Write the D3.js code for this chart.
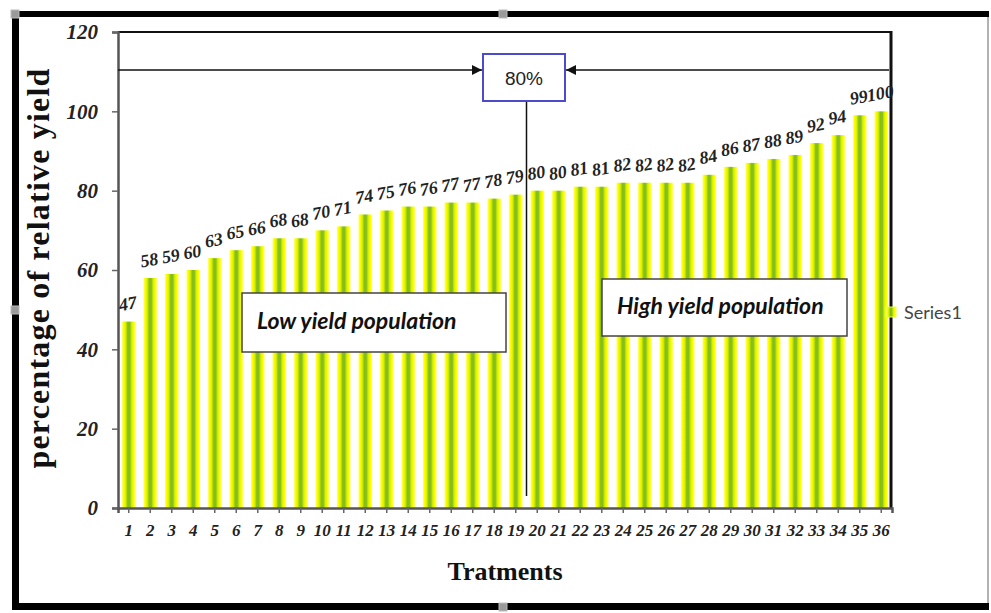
<!DOCTYPE html>
<html>
<head>
<meta charset="utf-8">
<script src="https://cdn.jsdelivr.net/npm/d3@7"></script>
<style>
  html, body { margin: 0; padding: 0; background: #fff; }
  svg { display: block; }
</style>
</head>
<body>
<svg id="chart" width="991" height="613"></svg>
<script>
// Treatments (x categories) and their relative yield (%)
const treatments = d3.range(1, 37).map(String);
const relativeYield = [47, 58, 59, 60, 63, 65, 66, 68, 68, 70, 71, 74, 75, 76, 76, 77, 77, 78,
                       79, 80, 80, 81, 81, 82, 82, 82, 82, 84, 86, 87, 88, 89, 92, 94, 99, 100];
const yTicks = [0, 20, 40, 60, 80, 100, 120];
const threshold = 80;
const seriesName = "Series1";

const svg = d3.select("#chart");
const plot = { left: 118, right: 892, top: 32, bottom: 508 };
const serif = "'Liberation Serif', 'Times New Roman', serif";
const sans = "Lato, 'Open Sans', sans-serif";

const x = d3.scaleBand().domain(treatments).range([plot.left, plot.right]).paddingInner(0.36).paddingOuter(0.18);
const y = d3.scaleLinear().domain([0, 120]).range([plot.bottom, plot.top]);

// Bar fill: yellow edges with a green core
const defs = svg.append("defs");
const grad = defs.append("linearGradient").attr("id", "barFill").attr("x1", "0%").attr("x2", "100%");
[["0%", "#ffff90"], ["12%", "#ffff00"], ["28%", "#d8f000"], ["42%", "#86bf1c"], ["58%", "#86bf1c"], ["72%", "#d8f000"], ["88%", "#ffff00"], ["100%", "#ffff90"]]
  .forEach(([o, c]) => grad.append("stop").attr("offset", o).attr("stop-color", c));

// Outer frame
svg.append("rect").attr("x", 0).attr("y", 0).attr("width", 991).attr("height", 613).attr("fill", "#fff");
svg.append("line").attr("x1", 988).attr("x2", 988).attr("y1", 12).attr("y2", 609).attr("stroke", "#999").attr("stroke-width", 1.5);
svg.append("rect").attr("x", 12).attr("y", 11).attr("width", 977).attr("height", 6).attr("fill", "#000");
svg.append("rect").attr("x", 12).attr("y", 603).attr("width", 977).attr("height", 7).attr("fill", "#000");
svg.append("rect").attr("x", 12).attr("y", 11).attr("width", 7).attr("height", 599).attr("fill", "#000");

// Plot frame (top and right)
svg.append("line").attr("x1", plot.left).attr("x2", plot.right).attr("y1", plot.top).attr("y2", plot.top)
  .attr("stroke", "#111").attr("stroke-width", 2);
svg.append("line").attr("x1", plot.right - 1).attr("x2", plot.right - 1).attr("y1", plot.top - 1).attr("y2", plot.bottom)
  .attr("stroke", "#111").attr("stroke-width", 3);

// Bars
svg.append("g").selectAll("rect").data(relativeYield).join("rect")
  .attr("x", (d, i) => x(treatments[i]))
  .attr("width", x.bandwidth())
  .attr("y", d => y(d))
  .attr("height", d => y(0) - y(d))
  .attr("fill", "url(#barFill)");

// Axes
const yAxis = svg.append("g").attr("transform", `translate(${plot.left},0)`)
  .call(d3.axisLeft(y).tickValues(yTicks).tickSize(6).tickPadding(14));
const xAxis = svg.append("g").attr("transform", `translate(0,${plot.bottom})`)
  .call(d3.axisBottom(x).tickSize(5).tickPadding(11));
[yAxis, xAxis].forEach(g => {
  g.select(".domain").attr("stroke", "#555").attr("stroke-width", 2.5);
  g.selectAll(".tick line").attr("stroke", "#666").attr("stroke-width", 1.5);
  g.selectAll("text").attr("fill", "#222").attr("font-family", serif)
    .attr("font-weight", "bold").attr("font-style", "italic");
});
yAxis.selectAll("text").attr("font-size", 21);
xAxis.selectAll("text").attr("font-size", 17);

// Value labels
svg.append("g").selectAll("text").data(relativeYield).join("text")
  .attr("transform", (d, i) => `translate(${x(treatments[i]) + x.bandwidth() / 2},${y(d) - 12}) rotate(-10)`)
  .attr("text-anchor", "middle")
  .attr("font-family", serif)
  .attr("font-weight", "bold").attr("font-style", "italic").attr("font-size", 18)
  .attr("fill", "#222")
  .text(d => d);

// Axis titles
svg.append("text").attr("x", 505).attr("y", 580).attr("text-anchor", "middle")
  .attr("font-family", serif).attr("font-weight", "bold")
  .attr("font-size", 26).attr("fill", "#111").text("Tratments");
svg.append("text").attr("transform", "translate(49,268) rotate(-90)").attr("text-anchor", "middle")
  .attr("font-family", serif).attr("font-weight", "bold").attr("letter-spacing", 1.2)
  .attr("font-size", 32).attr("fill", "#111").text("percentage of relative yield");

// Threshold marker: arrows, box and divider line
const boxL = 483, boxR = 565, boxT = 54, boxB = 101, arrowY = 70;
const splitX = (x(treatments[18]) + x.bandwidth() + x(treatments[19])) / 2;
defs.append("marker").attr("id", "arrowHead").attr("viewBox", "0 0 10 10").attr("refX", 10).attr("refY", 5)
  .attr("markerWidth", 10).attr("markerHeight", 10).attr("markerUnits", "userSpaceOnUse").attr("orient", "auto")
  .append("path").attr("d", "M0,0 L10,5 L0,10 Z").attr("fill", "#111");
svg.append("line").attr("x1", plot.left).attr("x2", boxL - 1).attr("y1", arrowY).attr("y2", arrowY)
  .attr("stroke", "#111").attr("stroke-width", 1.5).attr("marker-end", "url(#arrowHead)");
svg.append("line").attr("x1", plot.right - 3).attr("x2", boxR + 1).attr("y1", arrowY).attr("y2", arrowY)
  .attr("stroke", "#111").attr("stroke-width", 1.5).attr("marker-end", "url(#arrowHead)");
svg.append("line").attr("x1", splitX).attr("x2", splitX).attr("y1", boxB).attr("y2", y(0) - 12)
  .attr("stroke", "#111").attr("stroke-width", 1.5);
svg.append("rect").attr("x", boxL).attr("y", boxT).attr("width", boxR - boxL).attr("height", boxB - boxT)
  .attr("fill", "#fff").attr("stroke", "#4b4bcc").attr("stroke-width", 2);
svg.append("text").attr("x", (boxL + boxR) / 2).attr("y", (boxT + boxB) / 2 + 7).attr("text-anchor", "middle")
  .attr("font-family", "'Liberation Sans', Arial, sans-serif").attr("font-size", 19).attr("fill", "#222")
  .text(threshold + "%");

// Population boxes
const groups = [
  { label: "Low yield population", x0: 242, x1: 506, y0: 293, y1: 352 },
  { label: "High yield population", x0: 602, x1: 847, y0: 279, y1: 336 }
];
groups.forEach(g => {
  svg.append("rect").attr("x", g.x0).attr("y", g.y0).attr("width", g.x1 - g.x0).attr("height", g.y1 - g.y0)
    .attr("fill", "#fff").attr("stroke", "#444").attr("stroke-width", 1.5);
  svg.append("text").attr("x", g.x0 + 15).attr("y", (g.y0 + g.y1) / 2 + 6)
    .attr("font-family", sans).attr("font-weight", "bold").attr("font-style", "italic")
    .attr("font-size", 23).attr("fill", "#111").text(g.label);
});

// Legend
svg.append("rect").attr("x", 886).attr("y", 307).attr("width", 10).attr("height", 10).attr("fill", "url(#barFill)")
  .attr("stroke", "#e8ff40").attr("stroke-width", 1);
svg.append("text").attr("x", 904).attr("y", 319).attr("font-family", sans)
  .attr("font-size", 18).attr("fill", "#444").text(seriesName);

// Selection handles on the frame
const handles = [[15, 14], [503, 14], [15, 310], [503, 607]];
svg.append("g").selectAll("rect").data(handles).join("rect")
  .attr("x", d => d[0] - 4).attr("y", d => d[1] - 4).attr("width", 8).attr("height", 8)
  .attr("fill", "#9a9a9a").attr("stroke", "#bbb").attr("stroke-width", 1);
</script>
</body>
</html>
